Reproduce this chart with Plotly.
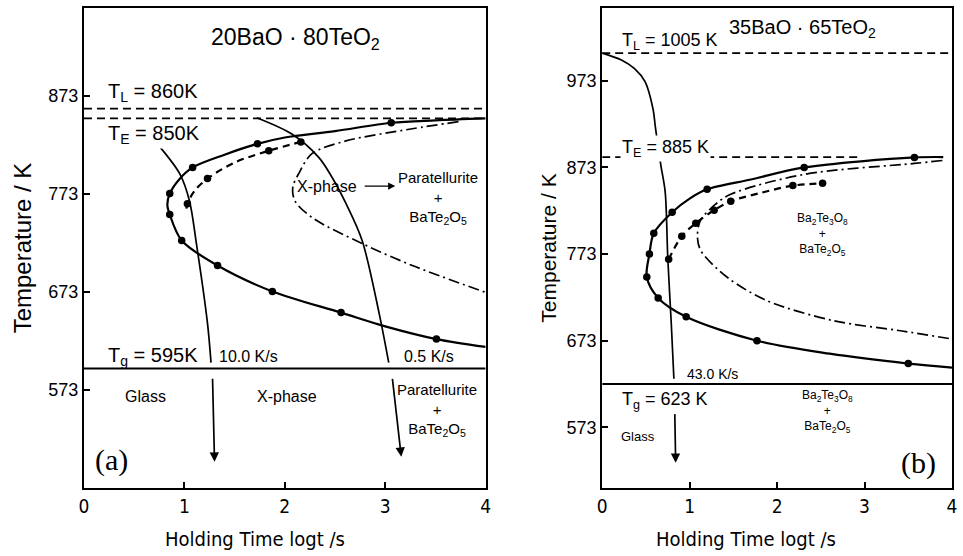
import plotly.graph_objects as go

# ---------------- (a) 20BaO-80TeO2 ----------------
a_TL, a_TE, a_Tg = 860, 850, 595

# onset curve (solid) with measured points
a_onset_x = [4.0, 3.5, 3.06, 2.5, 2.0, 1.727, 1.4, 1.082, 0.95, 0.854, 0.83, 0.854, 0.973, 1.33, 1.876, 2.56, 3.0, 3.51, 4.0]
a_onset_T = [850, 848, 845.5, 837, 830.5, 824, 813, 800, 788, 773.3, 762, 752, 725.5, 700, 673.6, 652, 638, 625, 617]
a_onset_pts_x = [3.06, 1.727, 1.082, 0.854, 0.854, 0.973, 1.33, 1.876, 2.56, 3.51]
a_onset_pts_T = [845.5, 824, 799.8, 773.3, 752, 725.5, 700, 673.6, 652, 625]

# dashed curve with measured points
a_dash_x = [1.02, 1.03, 1.1, 1.23, 1.5, 1.84, 2.16]
a_dash_T = [758, 763, 776, 788.6, 805, 817, 826]
a_dash_pts_x = [1.03, 1.23, 1.84, 2.16]
a_dash_pts_T = [763, 788.6, 817, 826]

# dash-dot curve (X-phase -> paratellurite + BaTe2O5)
a_dd_x = [3.73, 3.27, 2.61, 2.27, 2.14, 2.08, 2.1, 2.27, 2.77, 3.27, 4.0]
a_dd_T = [846.6, 839.4, 827, 814, 794, 780, 766, 749, 722.4, 700, 672.6]

# cooling curves
a_c10_x = [0.73, 0.953, 1.05, 1.12, 1.23, 1.265]
a_c10_T = [824, 793.6, 766, 722, 641, 601]
a_c05_x = [1.72, 2.07, 2.34, 2.47, 2.61, 2.77, 2.94, 3.035]
a_c05_T = [850.6, 834, 810, 790, 763, 725.5, 651, 601]

# ---------------- (b) 35BaO-65TeO2 ----------------
b_TL, b_TE, b_Tg = 1005, 885, 623

b_onset_x = [3.9, 3.57, 2.31, 1.7, 1.2, 1.0, 0.80, 0.59, 0.54, 0.51, 0.64, 0.96, 1.77, 2.6, 3.5, 4.0]
b_onset_T = [885, 884.5, 873, 859, 847.7, 837, 821.3, 797, 773, 746.6, 722.4, 700.6, 673, 658, 646.6, 642]
b_onset_pts_x = [3.57, 2.31, 1.2, 0.80, 0.59, 0.54, 0.51, 0.64, 0.96, 1.77, 3.5]
b_onset_pts_T = [884.5, 873, 847.7, 821.3, 797, 773, 746.6, 722.4, 700.6, 673, 646.6]

b_dash_x = [0.76, 0.91, 1.07, 1.28, 1.47, 1.81, 2.18, 2.52]
b_dash_T = [767, 793.7, 808.6, 823.6, 834, 843.5, 852, 854.6]
b_dash_pts_x = [0.76, 0.91, 1.07, 1.28, 1.47, 2.18, 2.52]
b_dash_pts_T = [767, 793.7, 808.6, 823.6, 834, 852, 854.6]

b_dd_x = [3.89, 3.57, 2.31, 1.47, 1.29, 1.12, 1.09, 1.13, 1.44, 1.89, 2.65, 3.41, 4.0]
b_dd_T = [881, 877.6, 865, 842, 830, 811, 791.4, 776.5, 745.4, 719, 696, 684.5, 675]

b_c43_x = [0.0, 0.22, 0.37, 0.49, 0.58, 0.61, 0.67, 0.72, 0.75, 0.79, 0.82]
b_c43_T = [1005, 997, 987, 972, 941, 918, 876, 845, 768.4, 692.5, 629]

x_ticks = [0, 1, 2, 3, 4]
a_y_ticks = [573, 673, 773, 873]
b_y_ticks = [573, 673, 773, 873, 973]

BLACK = "black"
TXT = "Liberation Sans"
XFONT = "DejaVu Sans Condensed"

fig = go.Figure()


def line(x, y, xa, ya, dash="solid", width=2.2):
    fig.add_trace(go.Scatter(x=x, y=y, xaxis=xa, yaxis=ya, mode="lines",
                             line=dict(color=BLACK, width=width, dash=dash, shape="spline", smoothing=0.9),
                             hoverinfo="skip", showlegend=False))


def dots(x, y, xa, ya):
    fig.add_trace(go.Scatter(x=x, y=y, xaxis=xa, yaxis=ya, mode="markers",
                             marker=dict(color=BLACK, size=7.5), hoverinfo="skip", showlegend=False))


def hline(T, xa, ya, x0=0, x1=4, dash="8px,5px", width=1.7):
    fig.add_trace(go.Scatter(x=[x0, x1], y=[T, T], xaxis=xa, yaxis=ya, mode="lines",
                             line=dict(color=BLACK, width=width, dash=dash),
                             hoverinfo="skip", showlegend=False))


DD = "11px,4px,2px,4px"

# panel (a)
hline(a_TL, "x", "y")
hline(a_TE, "x", "y")
hline(a_Tg, "x", "y", dash="solid", width=2)
line(a_onset_x, a_onset_T, "x", "y")
dots(a_onset_pts_x, a_onset_pts_T, "x", "y")
line(a_dash_x, a_dash_T, "x", "y", dash="7px,5px")
dots(a_dash_pts_x, a_dash_pts_T, "x", "y")
line(a_dd_x, a_dd_T, "x", "y", dash=DD, width=1.7)
line(a_c10_x, a_c10_T, "x", "y", width=1.7)
line(a_c05_x, a_c05_T, "x", "y", width=1.7)

# panel (b)
hline(b_TL, "x2", "y2")
hline(b_TE, "x2", "y2", x1=2.95)
hline(b_Tg, "x2", "y2", dash="solid", width=2)
line(b_onset_x, b_onset_T, "x2", "y2")
dots(b_onset_pts_x, b_onset_pts_T, "x2", "y2")
line(b_dash_x, b_dash_T, "x2", "y2", dash="7px,5px")
dots(b_dash_pts_x, b_dash_pts_T, "x2", "y2")
line(b_dd_x, b_dd_T, "x2", "y2", dash=DD, width=1.7)
line(b_c43_x, b_c43_T, "x2", "y2", width=1.7)

ann = []


def text(x, y, s, xa, ya, size=14, xanchor="center", font=TXT, bg=None):
    d = dict(x=x, y=y, xref=xa, yref=ya, text=s, showarrow=False, xanchor=xanchor,
             yanchor="middle", font=dict(family=font, size=size, color=BLACK))
    if bg:
        d["bgcolor"] = bg
    ann.append(d)


def arrow(x0, y0, x1, y1, xa, ya, width=1.7):
    ann.append(dict(x=x1, y=y1, ax=x0, ay=y0, xref=xa, yref=ya, axref=xa, ayref=ya,
                    text="", showarrow=True, arrowhead=2, arrowsize=1.1, arrowwidth=width,
                    arrowcolor=BLACK))


PARA = "Paratellurite<br>+<br>BaTe<sub>2</sub>O<sub>5</sub>"
BA = "Ba<sub>2</sub>Te<sub>3</sub>O<sub>8</sub><br>+<br>BaTe<sub>2</sub>O<sub>5</sub>"

# texts (a)
text(2.11, 931, "20BaO · 80TeO<sub>2</sub>", "x", "y", size=23)
text(0.22, 876, "T<sub>L</sub> = 860K", "x", "y", size=20, xanchor="left")
text(0.22, 834, "T<sub>E</sub> = 850K", "x", "y", size=20, xanchor="left", bg="white")
text(0.22, 607, "T<sub>g</sub> = 595K", "x", "y", size=20, xanchor="left")
text(1.32, 607, "10.0 K/s", "x", "y", size=16, xanchor="left")
text(3.17, 607, "0.5 K/s", "x", "y", size=16, xanchor="left")
text(0.615, 566, "Glass", "x", "y", size=16)
text(2.02, 566, "X-phase", "x", "y", size=16)
text(3.52, 553, PARA, "x", "y", size=15)
text(2.42, 781, "X-phase", "x", "y", size=16)
text(3.53, 769, PARA, "x", "y", size=15)
arrow(2.78, 781, 3.1, 781, "x", "y", width=1.3)
text(0.27, 502, "(a)", "x", "y", size=30, font="Liberation Serif")
arrow(1.28, 586, 1.30, 500, "x", "y")
arrow(3.07, 586, 3.16, 505, "x", "y")

# texts (b)
text(2.29, 1033, "35BaO · 65TeO<sub>2</sub>", "x2", "y2", size=20)
text(0.2, 1018, "T<sub>L</sub> = 1005 K", "x2", "y2", size=18, xanchor="left")
text(0.2, 895, "T<sub>E</sub> = 885 K", "x2", "y2", size=18, xanchor="left", bg="white")
text(1.265, 635, "43.0 K/s", "x2", "y2", size=14)
text(0.2, 604, "T<sub>g</sub> = 623 K", "x2", "y2", size=18, xanchor="left")
text(0.41, 563, "Glass", "x2", "y2", size=13)
text(2.52, 796, BA, "x2", "y2", size=12)
text(2.58, 591, BA, "x2", "y2", size=12)
text(3.62, 532, "(b)", "x2", "y2", size=30, font="Liberation Serif")
arrow(0.83, 590, 0.84, 532, "x2", "y2")

# x-axis titles, sitting a little left of each axis centre
for xa, ya, xv in (("x", "y domain", 1.70), ("x2", "y2 domain", 1.64)):
    ann.append(dict(x=xv, y=-0.106, xref=xa, yref=ya,
                    text="Holding Time logt /s", showarrow=False, xanchor="center", yanchor="middle",
                    font=dict(family=XFONT, size=20, color=BLACK)))

axis_common = dict(showline=True, linecolor=BLACK, linewidth=2, mirror=True, ticks="inside",
                   ticklen=6, tickwidth=1.5, tickcolor=BLACK, showgrid=False, zeroline=False)

fig.update_layout(
    width=963, height=556, margin=dict(l=84, r=8, t=6, b=68),
    paper_bgcolor="white", plot_bgcolor="white", showlegend=False,
    annotations=ann,
    xaxis=dict(domain=[0, 0.4627], range=[0, 4], tickvals=x_ticks, anchor="y",
               tickfont=dict(family=XFONT, size=19, color=BLACK), **axis_common),
    yaxis=dict(domain=[0, 1], range=[473.2, 962.5], tickvals=a_y_ticks, anchor="x",
               tickfont=dict(family=TXT, size=18, color=BLACK),
               title=dict(text="Temperature / K", font=dict(family=TXT, size=24, color=BLACK), standoff=10),
               **axis_common),
    xaxis2=dict(domain=[0.597, 1], range=[0, 4], tickvals=x_ticks, anchor="y2",
                tickfont=dict(family=XFONT, size=19, color=BLACK), **axis_common),
    yaxis2=dict(domain=[0, 1], range=[503, 1057], tickvals=b_y_ticks, anchor="x2",
                tickfont=dict(family=TXT, size=18, color=BLACK),
                title=dict(text="Temperature / K", font=dict(family=TXT, size=21, color=BLACK), standoff=4),
                **axis_common),
)

fig.write_html("out.html")
